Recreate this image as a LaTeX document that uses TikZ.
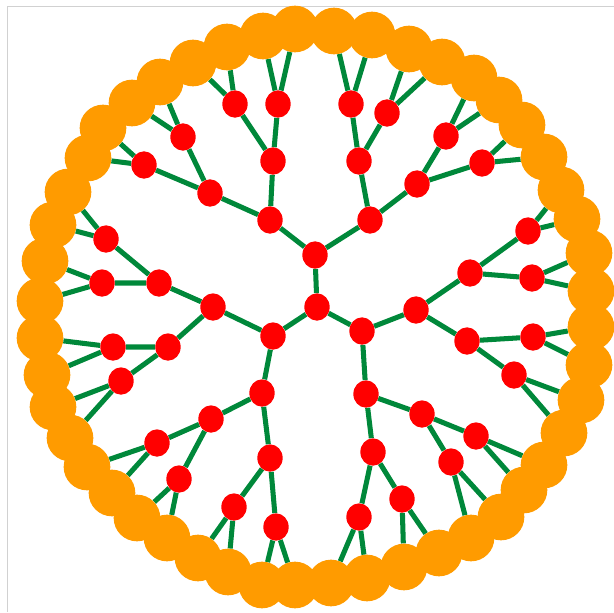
\documentclass[tikz,border=0pt]{standalone}
\usepackage{xcolor}
\usepackage{tikz}
\usetikzlibrary{shapes.geometric,backgrounds}

\definecolor{rimorange}{RGB}{255,155,0}
\definecolor{bondgreen}{RGB}{0,136,58}

\begin{document}
\begin{tikzpicture}[
    x=0.03cm,
    y=-0.03cm,
    inner_node/.style = {
        ellipse,
        fill=red,
        draw=none,
        inner sep=0pt,
        minimum width=0.76cm,
        minimum height=0.82cm
    },
    rim_node/.style = {
        circle,
        fill=rimorange,
        draw=none,
        inner sep=0pt,
        minimum size=1.4cm
    },
    bond/.style = {
        line width=4.3pt,
        draw=bondgreen
    },
    frame/.style = {
        line width=0.8pt,
        draw=black!18
    }
]
    \useasboundingbox (0,0) rectangle (614,612);
    \draw [frame] (7,612) -- (7,6) -- (614,6);

    % Node Definitions
    \node [inner_node] (core) at (317,307) {};

    \node [inner_node] (up) at (315,255) {};
    \node [inner_node] (lf) at (273,336) {};
    \node [inner_node] (rt) at (362,331) {};

    \node [inner_node] (up_a) at (270,220) {};
    \node [inner_node] (up_b) at (370,220) {};
    \node [inner_node] (lf_a) at (213,307) {};
    \node [inner_node] (lf_b) at (262,393) {};
    \node [inner_node] (rt_a) at (416,310) {};
    \node [inner_node] (rt_b) at (366,394) {};

    \node [inner_node] (up_aa) at (273,161) {};
    \node [inner_node] (up_ab) at (210,193) {};
    \node [inner_node] (up_ba) at (359,161) {};
    \node [inner_node] (up_bb) at (417,184) {};
    \node [inner_node] (lf_aa) at (159,283) {};
    \node [inner_node] (lf_ab) at (168,347) {};
    \node [inner_node] (lf_ba) at (211,419) {};
    \node [inner_node] (lf_bb) at (270,458) {};
    \node [inner_node] (rt_aa) at (470,273) {};
    \node [inner_node] (rt_ab) at (467,341) {};
    \node [inner_node] (rt_ba) at (422,414) {};
    \node [inner_node] (rt_bb) at (373,452) {};

    \node [inner_node] (up_aa1) at (278,104) {};
    \node [inner_node] (up_aa2) at (235,104) {};
    \node [inner_node] (up_ab1) at (183,137) {};
    \node [inner_node] (up_ab2) at (144,165) {};
    \node [inner_node] (up_ba1) at (351,104) {};
    \node [inner_node] (up_ba2) at (387,113) {};
    \node [inner_node] (up_bb1) at (446,136) {};
    \node [inner_node] (up_bb2) at (482,163) {};
    \node [inner_node] (lf_aa1) at (106,239) {};
    \node [inner_node] (lf_aa2) at (102,283) {};
    \node [inner_node] (lf_ab1) at (113,347) {};
    \node [inner_node] (lf_ab2) at (121,381) {};
    \node [inner_node] (lf_ba1) at (157,443) {};
    \node [inner_node] (lf_ba2) at (179,479) {};
    \node [inner_node] (lf_bb1) at (234,507) {};
    \node [inner_node] (lf_bb2) at (276,527) {};
    \node [inner_node] (rt_aa1) at (528,231) {};
    \node [inner_node] (rt_aa2) at (532,278) {};
    \node [inner_node] (rt_ab1) at (533,337) {};
    \node [inner_node] (rt_ab2) at (514,375) {};
    \node [inner_node] (rt_ba1) at (476,436) {};
    \node [inner_node] (rt_ba2) at (451,462) {};
    \node [inner_node] (rt_bb1) at (402,499) {};
    \node [inner_node] (rt_bb2) at (359,517) {};

    % Outer ring
    \node [rim_node] (rim1) at (263,36) {};
    \node [rim_node] (rim2) at (295,29) {};
    \node [rim_node] (rim3) at (334,31) {};
    \node [rim_node] (rim4) at (372,35) {};
    \node [rim_node] (rim5) at (409,49) {};
    \node [rim_node] (rim6) at (442,62) {};
    \node [rim_node] (rim7) at (474,78) {};
    \node [rim_node] (rim8) at (499,100) {};
    \node [rim_node] (rim9) at (522,125) {};
    \node [rim_node] (rim10) at (544,157) {};
    \node [rim_node] (rim11) at (561,190) {};
    \node [rim_node] (rim12) at (577,219) {};
    \node [rim_node] (rim13) at (589,253) {};
    \node [rim_node] (rim14) at (591,291) {};
    \node [rim_node] (rim15) at (591,327) {};
    \node [rim_node] (rim16) at (589,365) {};
    \node [rim_node] (rim17) at (581,400) {};
    \node [rim_node] (rim18) at (564,433) {};
    \node [rim_node] (rim19) at (544,465) {};
    \node [rim_node] (rim20) at (524,490) {};
    \node [rim_node] (rim21) at (501,517) {};
    \node [rim_node] (rim22) at (471,538) {};
    \node [rim_node] (rim23) at (439,553) {};
    \node [rim_node] (rim24) at (404,567) {};
    \node [rim_node] (rim25) at (367,578) {};
    \node [rim_node] (rim26) at (331,583) {};
    \node [rim_node] (rim27) at (295,585) {};
    \node [rim_node] (rim28) at (262,585) {};
    \node [rim_node] (rim29) at (228,572) {};
    \node [rim_node] (rim30) at (198,558) {};
    \node [rim_node] (rim31) at (167,538) {};
    \node [rim_node] (rim32) at (137,518) {};
    \node [rim_node] (rim33) at (112,493) {};
    \node [rim_node] (rim34) at (87,467) {};
    \node [rim_node] (rim35) at (70,438) {};
    \node [rim_node] (rim36) at (53,407) {};
    \node [rim_node] (rim37) at (47,375) {};
    \node [rim_node] (rim38) at (40,338) {};
    \node [rim_node] (rim39) at (40,301) {};
    \node [rim_node] (rim40) at (45,261) {};
    \node [rim_node] (rim41) at (53,225) {};
    \node [rim_node] (rim42) at (68,192) {};
    \node [rim_node] (rim43) at (88,158) {};
    \node [rim_node] (rim44) at (103,128) {};
    \node [rim_node] (rim45) at (132,103) {};
    \node [rim_node] (rim46) at (160,82) {};
    \node [rim_node] (rim47) at (193,63) {};
    \node [rim_node] (rim48) at (227,47) {};

    % Bonds connecting nodes
    \begin{scope}[on background layer]
    \draw [bond] (core) -- (up) (core) -- (lf) (core) -- (rt);

    \draw [bond] (up) -- (up_a) (up) -- (up_b);
    \draw [bond] (lf) -- (lf_a) (lf) -- (lf_b);
    \draw [bond] (rt) -- (rt_a) (rt) -- (rt_b);

    \draw [bond] (up_a) -- (up_aa) (up_a) -- (up_ab);
    \draw [bond] (up_b) -- (up_ba) (up_b) -- (up_bb);
    \draw [bond] (lf_a) -- (lf_aa) (lf_a) -- (lf_ab);
    \draw [bond] (lf_b) -- (lf_ba) (lf_b) -- (lf_bb);
    \draw [bond] (rt_a) -- (rt_aa) (rt_a) -- (rt_ab);
    \draw [bond] (rt_b) -- (rt_ba) (rt_b) -- (rt_bb);

    \draw [bond] (up_aa) -- (up_aa1) (up_aa) -- (up_aa2);
    \draw [bond] (up_ab) -- (up_ab1) (up_ab) -- (up_ab2);
    \draw [bond] (up_ba) -- (up_ba1) (up_ba) -- (up_ba2);
    \draw [bond] (up_bb) -- (up_bb1) (up_bb) -- (up_bb2);
    \draw [bond] (lf_aa) -- (lf_aa1) (lf_aa) -- (lf_aa2);
    \draw [bond] (lf_ab) -- (lf_ab1) (lf_ab) -- (lf_ab2);
    \draw [bond] (lf_ba) -- (lf_ba1) (lf_ba) -- (lf_ba2);
    \draw [bond] (lf_bb) -- (lf_bb1) (lf_bb) -- (lf_bb2);
    \draw [bond] (rt_aa) -- (rt_aa1) (rt_aa) -- (rt_aa2);
    \draw [bond] (rt_ab) -- (rt_ab1) (rt_ab) -- (rt_ab2);
    \draw [bond] (rt_ba) -- (rt_ba1) (rt_ba) -- (rt_ba2);
    \draw [bond] (rt_bb) -- (rt_bb1) (rt_bb) -- (rt_bb2);

    \draw [bond] (up_aa1) -- (rim1) (up_aa1) -- (rim2);
    \draw [bond] (up_ba1) -- (rim3) (up_ba1) -- (rim4);
    \draw [bond] (up_ba2) -- (rim5) (up_ba2) -- (rim6);
    \draw [bond] (up_bb1) -- (rim7) (up_bb1) -- (rim8);
    \draw [bond] (up_bb2) -- (rim9) (up_bb2) -- (rim10);
    \draw [bond] (rt_aa1) -- (rim11) (rt_aa1) -- (rim12);
    \draw [bond] (rt_aa2) -- (rim13) (rt_aa2) -- (rim14);
    \draw [bond] (rt_ab1) -- (rim15) (rt_ab1) -- (rim16);
    \draw [bond] (rt_ab2) -- (rim17) (rt_ab2) -- (rim18);
    \draw [bond] (rt_ba1) -- (rim19) (rt_ba1) -- (rim20);
    \draw [bond] (rt_ba2) -- (rim21) (rt_ba2) -- (rim22);
    \draw [bond] (rt_bb1) -- (rim23) (rt_bb1) -- (rim24);
    \draw [bond] (rt_bb2) -- (rim25) (rt_bb2) -- (rim26);
    \draw [bond] (lf_bb2) -- (rim27) (lf_bb2) -- (rim28);
    \draw [bond] (lf_bb1) -- (rim29) (lf_bb1) -- (rim30);
    \draw [bond] (lf_ba2) -- (rim31) (lf_ba2) -- (rim32);
    \draw [bond] (lf_ba1) -- (rim33) (lf_ba1) -- (rim34);
    \draw [bond] (lf_ab2) -- (rim35) (lf_ab2) -- (rim36);
    \draw [bond] (lf_ab1) -- (rim37) (lf_ab1) -- (rim38);
    \draw [bond] (lf_aa2) -- (rim39) (lf_aa2) -- (rim40);
    \draw [bond] (lf_aa1) -- (rim41) (lf_aa1) -- (rim42);
    \draw [bond] (up_ab2) -- (rim43) (up_ab2) -- (rim44);
    \draw [bond] (up_ab1) -- (rim45) (up_ab1) -- (rim46);
    \draw [bond] (up_aa2) -- (rim47) (up_aa2) -- (rim48);
    \end{scope}

\end{tikzpicture}
\end{document}
